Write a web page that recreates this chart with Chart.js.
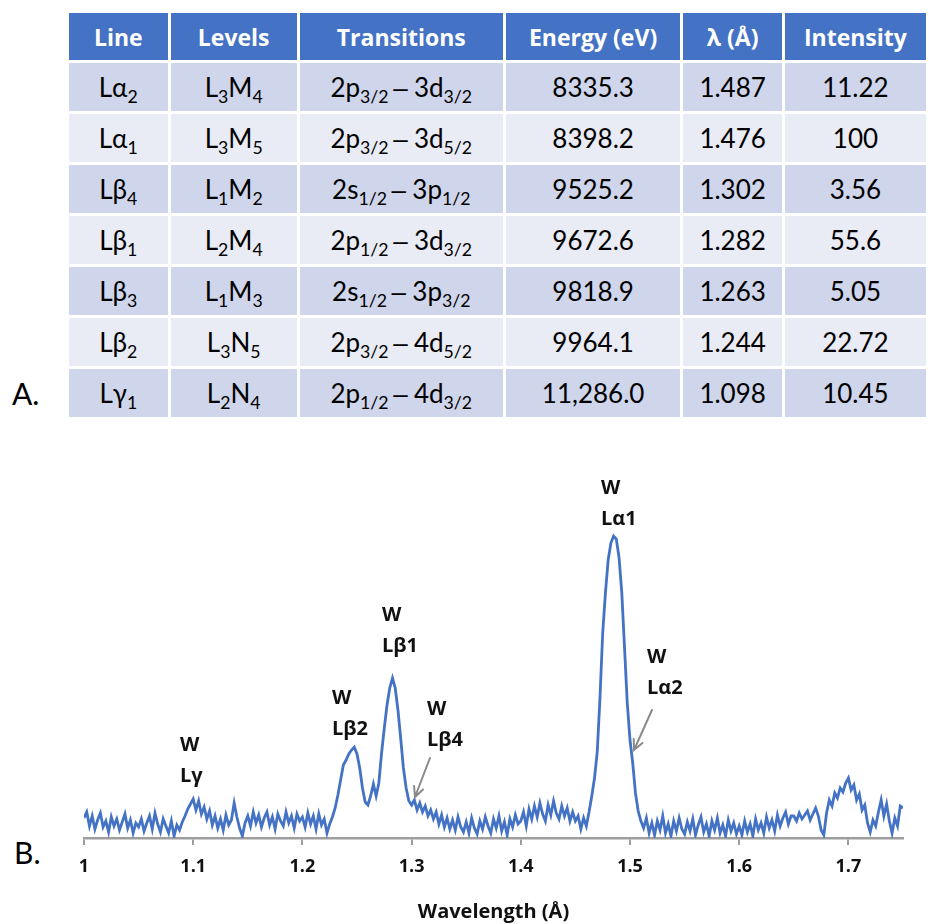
<!DOCTYPE html>
<html>
<head>
<meta charset="utf-8">
<script src="https://cdn.jsdelivr.net/npm/chart.js@4.4.1/dist/chart.umd.min.js"></script>
<style>
  html, body { margin: 0; padding: 0; background: #fff; width: 929px; height: 924px; overflow: hidden; }
  body { position: relative; font-family: Lato, "Open Sans", sans-serif; color: #000; }
  .panel-label { position: absolute; font-size: 30px; line-height: 30px; font-family: Lato, sans-serif; }
  #tbl { position: absolute; left: 69px; top: 13px; border-collapse: separate; border-spacing: 0; table-layout: fixed; }
  #tbl th, #tbl td { box-sizing: border-box; text-align: center; vertical-align: middle; padding: 0;
    border-right: 3px solid #fff; border-bottom: 3px solid #fff; white-space: nowrap; }
  #tbl th { background: #4472C4; color: #fff; font-family: "Open Sans", Lato, sans-serif; font-weight: bold;
    font-size: 23px; height: 50px; }
  #tbl td { height: 51px; color: #000; font-size: 26px; }
  #tbl tr.dark td { background: #CFD5EA; }
  #tbl tr.light td { background: #E9EBF5; }
  #tbl sub { font-size: 0.68em; vertical-align: -0.32em; line-height: 0; }
  #tbl .dash { font-family: "Liberation Sans", sans-serif; margin: 0 0.24em 0 0.18em; }
  #chartBox { position: absolute; left: 0; top: 440px; width: 929px; height: 484px; }
</style>
</head>
<body>
<div class="panel-label" style="left:12px; top:378px;">A.</div>
<div class="panel-label" style="left:14px; top:837px;">B.</div>
<table id="tbl"><thead><tr id="hdr"></tr></thead><tbody id="rows"></tbody></table>
<div id="chartBox"><canvas id="spec"></canvas></div>
<script>
// ---- Table A: W L-series emission lines ----
const headers = ['Line', 'Levels', 'Transitions', 'Energy (eV)', 'λ (Å)', 'Intensity'];
const colWidths = [104, 132, 209, 180, 103, 146];
const lineNames = ['Lα_2', 'Lα_1', 'Lβ_4', 'Lβ_1', 'Lβ_3', 'Lβ_2', 'Lγ_1'];
const levels = ['L_3M_4', 'L_3M_5', 'L_1M_2', 'L_2M_4', 'L_1M_3', 'L_3N_5', 'L_2N_4'];
const transitions = ['2p_3/2 – 3d_3/2', '2p_3/2 – 3d_5/2', '2s_1/2 – 3p_1/2', '2p_1/2 – 3d_3/2',
                     '2s_1/2 – 3p_3/2', '2p_3/2 – 4d_5/2', '2p_1/2 – 4d_3/2'];
const energies = ['8335.3', '8398.2', '9525.2', '9672.6', '9818.9', '9964.1', '11,286.0'];
const wavelengths = ['1.487', '1.476', '1.302', '1.282', '1.263', '1.244', '1.098'];
const intensities = ['11.22', '100', '3.56', '55.6', '5.05', '22.72', '10.45'];

// "_x" marks a subscript (digits and slashes that follow it); " – " is the transition dash
function toMarkup(s) {
  return s.replace(/_([0-9\/]+)/g, '<sub>$1</sub>')
          .replace(/ – /g, '<span class="dash">–</span>');
}
const hdr = document.getElementById('hdr');
headers.forEach((h, i) => {
  const th = document.createElement('th');
  th.style.width = colWidths[i] + 'px';
  th.textContent = h;
  hdr.appendChild(th);
});
const body = document.getElementById('rows');
lineNames.forEach((_, r) => {
  const tr = document.createElement('tr');
  tr.className = r % 2 === 0 ? 'dark' : 'light';
  [lineNames[r], levels[r], transitions[r], energies[r], wavelengths[r], intensities[r]].forEach(v => {
    const td = document.createElement('td');
    td.innerHTML = toMarkup(v);
    tr.appendChild(td);
  });
  body.appendChild(tr);
});

// ---- Chart B: measured spectrum ----
const wlStart = 1.0;       // Å, first sample
const wlStep = 0.0025;     // Å between samples
const counts = [
  20, 26, 12, 22, 9, 18, 25, 11, 17, 6, 21, 12, 19, 8, 16, 24, 10, 18, 5, 15,
  11, 19, 7, 15, 22, 9, 25, 14, 6, 19, 12, 5, 17, 2, 13, 8, 16, 22, 29, 34,
  39, 28, 37, 24, 31, 19, 27, 13, 22, 10, 19, 8, 23, 13, 18, 35, 21, 10, 2, 15,
  22, 12, 26, 15, 23, 11, 20, 26, 13, 21, 9, 24, 17, 12, 26, 15, 22, 10, 24, 17,
  21, 11, 25, 14, 22, 9, 24, 13, 19, 5, 14, 21, 30, 43, 58, 73, 78, 84, 88, 91,
  84, 70, 50, 36, 33, 42, 54, 42, 55, 85, 110, 133, 150, 160, 150, 128, 100, 70, 50, 37,
  33, 38, 28, 35, 26, 32, 22, 28, 19, 26, 14, 23, 11, 20, 9, 18, 8, 21, 11, 6,
  16, 5, 20, 10, 4, 17, 9, 21, 12, 5, 19, 10, 22, 7, 16, 3, 19, 11, 23, 14,
  17, 26, 12, 29, 19, 32, 21, 35, 24, 17, 33, 23, 37, 25, 19, 32, 22, 30, 17, 26,
  17, 22, 9, 20, 12, 26, 42, 60, 86, 140, 205, 245, 278, 295, 302, 299, 280, 245, 190, 135,
  98, 75, 45, 27, 17, 10, 20, 5, 15, 3, 17, 8, 22, 5, 14, 2, 17, 7, 20, 9,
  4, 16, 7, 19, 3, 13, 21, 6, 14, 2, 17, 8, 20, 5, 13, 2, 18, 7, 15, 4,
  12, 3, 17, 6, 14, 2, 19, 8, 15, 5, 21, 10, 18, 7, 23, 12, 20, 26, 14, 22,
  22, 17, 25, 19, 23, 27, 18, 24, 30, 22, 8, 3, 25, 38, 32, 45, 40, 50, 46, 55,
  60, 48, 53, 38, 44, 28, 33, 15, 6, 18, 12, 26, 38, 22, 34, 17, 5, 20, 12, 32,
  30
];
const xTickStep = 0.1;

// Peak annotations ("W" over the line name), placed in data units
const peakNames = ['Lγ', 'Lβ2', 'Lβ1', 'Lβ4', 'Lα1', 'Lα2'];
const peakLabelAt = [
  { x: 1.0879, y: 93 }, { x: 1.2271, y: 140 }, { x: 1.2729, y: 223 },
  { x: 1.3141, y: 129 }, { x: 1.4734, y: 350 }, { x: 1.5156, y: 181 }
];
const pointerArrows = [
  { from: { x: 1.3168, y: 80 }, to: { x: 1.3031, y: 41 } },
  { from: { x: 1.5201, y: 128 }, to: { x: 1.5037, y: 88 } }
];

const peakLabels = {
  id: 'peakLabels',
  afterDatasetsDraw(chart) {
    const { ctx, scales: { x, y } } = chart;
    ctx.save();
    ctx.fillStyle = '#111';
    ctx.font = 'bold 20px "Open Sans", sans-serif';
    ctx.textAlign = 'left';
    ctx.textBaseline = 'middle';
    peakNames.forEach((name, i) => {
      const px = x.getPixelForValue(peakLabelAt[i].x);
      const py = y.getPixelForValue(peakLabelAt[i].y);
      ctx.fillText('W', px, py);
      ctx.fillText(name, px, py + 31);
    });
    ctx.strokeStyle = '#8a8a8a';
    ctx.lineWidth = 2;
    ctx.lineCap = 'round';
    pointerArrows.forEach(a => {
      const x0 = x.getPixelForValue(a.from.x), y0 = y.getPixelForValue(a.from.y);
      const x1 = x.getPixelForValue(a.to.x), y1 = y.getPixelForValue(a.to.y);
      const ang = Math.atan2(y1 - y0, x1 - x0);
      const head = 11, spread = 0.45;
      ctx.beginPath();
      ctx.moveTo(x0, y0);
      ctx.lineTo(x1, y1);
      ctx.moveTo(x1 - head * Math.cos(ang - spread), y1 - head * Math.sin(ang - spread));
      ctx.lineTo(x1, y1);
      ctx.lineTo(x1 - head * Math.cos(ang + spread), y1 - head * Math.sin(ang + spread));
      ctx.stroke();
    });
    ctx.restore();
  }
};

new Chart(document.getElementById('spec'), {
  type: 'line',
  data: {
    datasets: [{
      data: counts.map((c, i) => ({ x: wlStart + i * wlStep, y: c })),
      borderColor: '#4472C4',
      borderWidth: 2.8,
      pointRadius: 0,
      tension: 0,
      fill: false
    }]
  },
  options: {
    responsive: true,
    maintainAspectRatio: false,
    animation: false,
    devicePixelRatio: 1,
    layout: { padding: { left: 84, right: 26, top: 68, bottom: 0 } },
    plugins: { legend: { display: false }, tooltip: { enabled: false } },
    scales: {
      x: {
        type: 'linear',
        min: 1,
        max: 1.75,
        afterFit(scale) { scale.height = 86; },
        border: { display: true, color: '#9e9e9e', width: 2.5 },
        grid: { display: true, drawOnChartArea: false, drawTicks: true, tickLength: 7, color: '#9e9e9e', lineWidth: 2 },
        ticks: {
          stepSize: xTickStep,
          includeBounds: false,
          padding: 11,
          color: '#111',
          font: { family: '"Open Sans", sans-serif', size: 18, weight: 'bold' },
          maxRotation: 0,
          callback: v => String(Number(v.toFixed(2)))
        },
        title: {
          display: true,
          text: 'Wavelength (Å)',
          color: '#111',
          font: { family: '"Open Sans", sans-serif', size: 20, weight: 'bold' },
          padding: { top: 0, bottom: 0 }
        }
      },
      y: { display: false, min: 0, max: 330 }
    }
  },
  plugins: [peakLabels]
});
</script>
</body>
</html>
